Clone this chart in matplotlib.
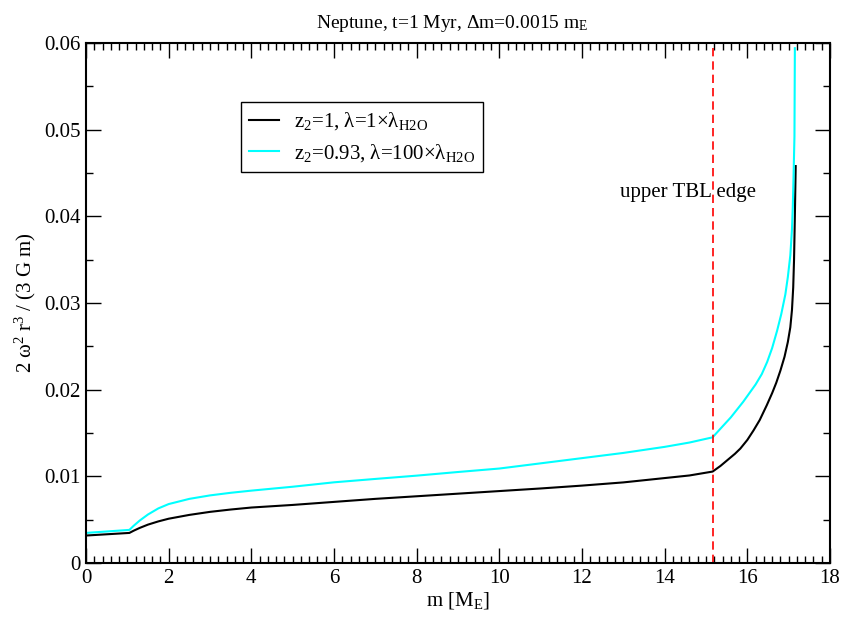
import matplotlib
matplotlib.use("Agg")
import matplotlib.pyplot as plt
from matplotlib.ticker import MultipleLocator, FuncFormatter

plt.rcParams['font.family'] = ['Liberation Serif', 'DejaVu Serif']
plt.rcParams['mathtext.fontset'] = 'custom'
plt.rcParams['mathtext.rm'] = 'Liberation Serif'
plt.rcParams['mathtext.it'] = 'Liberation Serif'

# z2=1, lambda=1 x lambda_H2O
m_black = [0, 1.05, 1.15, 1.3, 1.5, 1.75, 2, 2.5, 3, 3.5, 4, 5, 6, 7, 8, 9, 10,
           11, 12, 13, 14, 14.6, 15.16, 15.35, 15.5, 15.7, 15.83, 16.0, 16.15,
           16.3, 16.47, 16.6, 16.7, 16.8, 16.9, 16.98, 17.04, 17.08, 17.11,
           17.13, 17.15, 17.17]
y_black = [0.00317, 0.00347, 0.00372, 0.00405, 0.00443, 0.0048, 0.00511,
           0.00555, 0.0059, 0.00617, 0.0064, 0.0067, 0.00705, 0.0074, 0.0077,
           0.0080, 0.0083, 0.0086, 0.00893, 0.0093, 0.0098, 0.0101, 0.01055,
           0.0112, 0.0118, 0.0126, 0.0132, 0.0142, 0.0153, 0.0165, 0.0182,
           0.0196, 0.0208, 0.0222, 0.0238, 0.0255, 0.0272, 0.0292, 0.0318,
           0.035, 0.040, 0.0458]

# z2=0.93, lambda=100 x lambda_H2O
m_cyan = [0, 1.05, 1.15, 1.3, 1.5, 1.75, 2, 2.5, 3, 3.5, 4, 5, 6, 7, 8, 9, 10,
          11, 12, 13, 14, 14.6, 15.16, 15.35, 15.6, 15.9, 16.2, 16.35, 16.48,
          16.6, 16.72, 16.82, 16.92, 16.98, 17.04, 17.08, 17.10, 17.12, 17.14,
          17.15]
y_cyan = [0.00347, 0.00382, 0.00428, 0.0049, 0.0056, 0.0063, 0.0068, 0.0074,
          0.0078, 0.0081, 0.00835, 0.0088, 0.00931, 0.0097, 0.01008, 0.0105,
          0.0109, 0.0115, 0.0121, 0.0127, 0.0134, 0.0139, 0.0145, 0.0155,
          0.0168, 0.0186, 0.0206, 0.0218, 0.0232, 0.0248, 0.0268, 0.0287,
          0.0310, 0.0330, 0.0355, 0.0385, 0.0411, 0.045, 0.0492, 0.0594]

tbl_edge = 15.16

fig = plt.figure(figsize=(8.41, 6.19), dpi=100)
ax = fig.add_axes([86/841, 56/619, 744/841, 520/619])

ax.plot(m_black, y_black, color='black', lw=1.5,
        label=r'z$_2$=1, λ=1×λ$_{\mathrm{H2O}}$')
ax.plot(m_cyan, y_cyan, color='#00ffff', lw=1.5,
        label=r'z$_2$=0.93, λ=100×λ$_{\mathrm{H2O}}$')
ax.axvline(tbl_edge, color='red', lw=1.2, ls=(0, (5, 3)))

ax.text(12.92, 0.0422, 'upper TBL edge', fontsize=15, va='baseline')

ax.set_xlim(0, 18)
ax.set_ylim(0, 0.06)
ax.xaxis.set_major_locator(MultipleLocator(2))
ax.xaxis.set_minor_locator(MultipleLocator(0.2))
ax.yaxis.set_major_locator(MultipleLocator(0.01))
ax.yaxis.set_minor_locator(MultipleLocator(0.005))
ax.yaxis.set_major_formatter(FuncFormatter(lambda v, p: '0' if abs(v) < 1e-9 else f'{v:.2f}'))
ax.xaxis.set_major_formatter(FuncFormatter(lambda v, p: f'{v:.0f}'))

ax.tick_params(which='both', direction='in', top=True, right=True, labelsize=15)
ax.tick_params(which='major', length=10.5, width=1, pad=4)
ax.tick_params(which='minor', length=5, width=1)
for s in ax.spines.values():
    s.set_linewidth(1.5)

ax.set_xlabel(r'm [M$_{\mathrm{E}}$]', fontsize=15, labelpad=2)
ax.set_ylabel(r'2 ω$^2$ r$^3$ / (3 G m)', fontsize=15, labelpad=4)

fig.text(452/841, 1 - 28/619, r'Neptune, t=1 Myr, Δm=0.0015 m$_{\mathrm{E}}$',
         fontsize=14, ha='center', va='baseline')

leg = ax.legend(loc='upper left', bbox_to_anchor=(0.208, 0.8865), fontsize=15,
                frameon=True, fancybox=False, framealpha=1, edgecolor='black',
                borderaxespad=0, handlelength=1.45, handletextpad=0.7,
                labelspacing=0.45, borderpad=0.4)
leg.get_frame().set_linewidth(1.0)

fig.savefig('out.png', dpi=100)
